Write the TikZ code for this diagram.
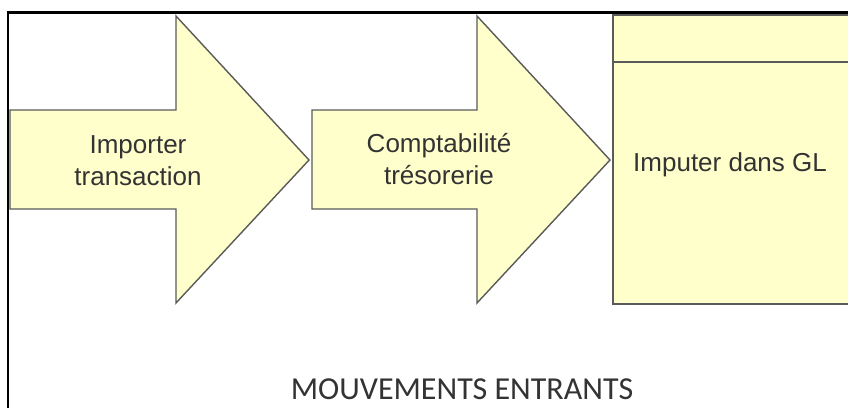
\documentclass[tikz,border=0pt]{standalone}
\usepackage{fontspec}
\newfontfamily\labelfont{Liberation Sans}
\newfontfamily\captionfont{Carlito}
\definecolor{stepfill}{HTML}{FFFFCC}
\definecolor{stepline}{HTML}{5A5A5A}
\definecolor{steptext}{HTML}{333333}
\tikzset{
  stepshape/.style={fill=stepfill, draw=stepline, line width=1.4pt, line join=miter},
  steplabel/.style={font=\labelfont\fontsize{26}{32}\selectfont, text=steptext, align=center, inner sep=0pt},
  frameline/.style={draw=black, line width=2.6pt},
}
\begin{document}
\begin{tikzpicture}[x=1pt, y=-1pt]
  \useasboundingbox (0,0) rectangle (848,407);
  % outer frame, running off the right and bottom edges
  \draw[frameline] (8,420) -- (8,12.3) -- (860,12.3);

  % first step arrow
  \draw[stepshape] (10,110) -- (176,110) -- (176,16) -- (309,160) -- (176,303)
    -- (176,209) -- (10,209) -- cycle;
  % second step arrow
  \draw[stepshape] (312,110) -- (477,110) -- (477,16) -- (610,160) -- (477,303)
    -- (477,209) -- (312,209) -- cycle;
  % ledger box with its header band
  \draw[stepshape] (613,15) rectangle (870,304);
  \draw[stepshape] (613,62) -- (870,62);

  % multi-line labels: the base anchor sits on the last line
  \node[steplabel, anchor=base] (importer) at (138,185) {Importer\\transaction};
  \node[steplabel, anchor=base] (compta) at (439,184) {Comptabilité\\trésorerie};
  \node[steplabel, anchor=base west] (imputer) at (633,171) {Imputer dans GL};

  \node[font=\captionfont\fontsize{32}{38}\selectfont, text=steptext, anchor=base, inner sep=0pt]
    (caption) at (462,399) {MOUVEMENTS ENTRANTS};
\end{tikzpicture}
\end{document}
